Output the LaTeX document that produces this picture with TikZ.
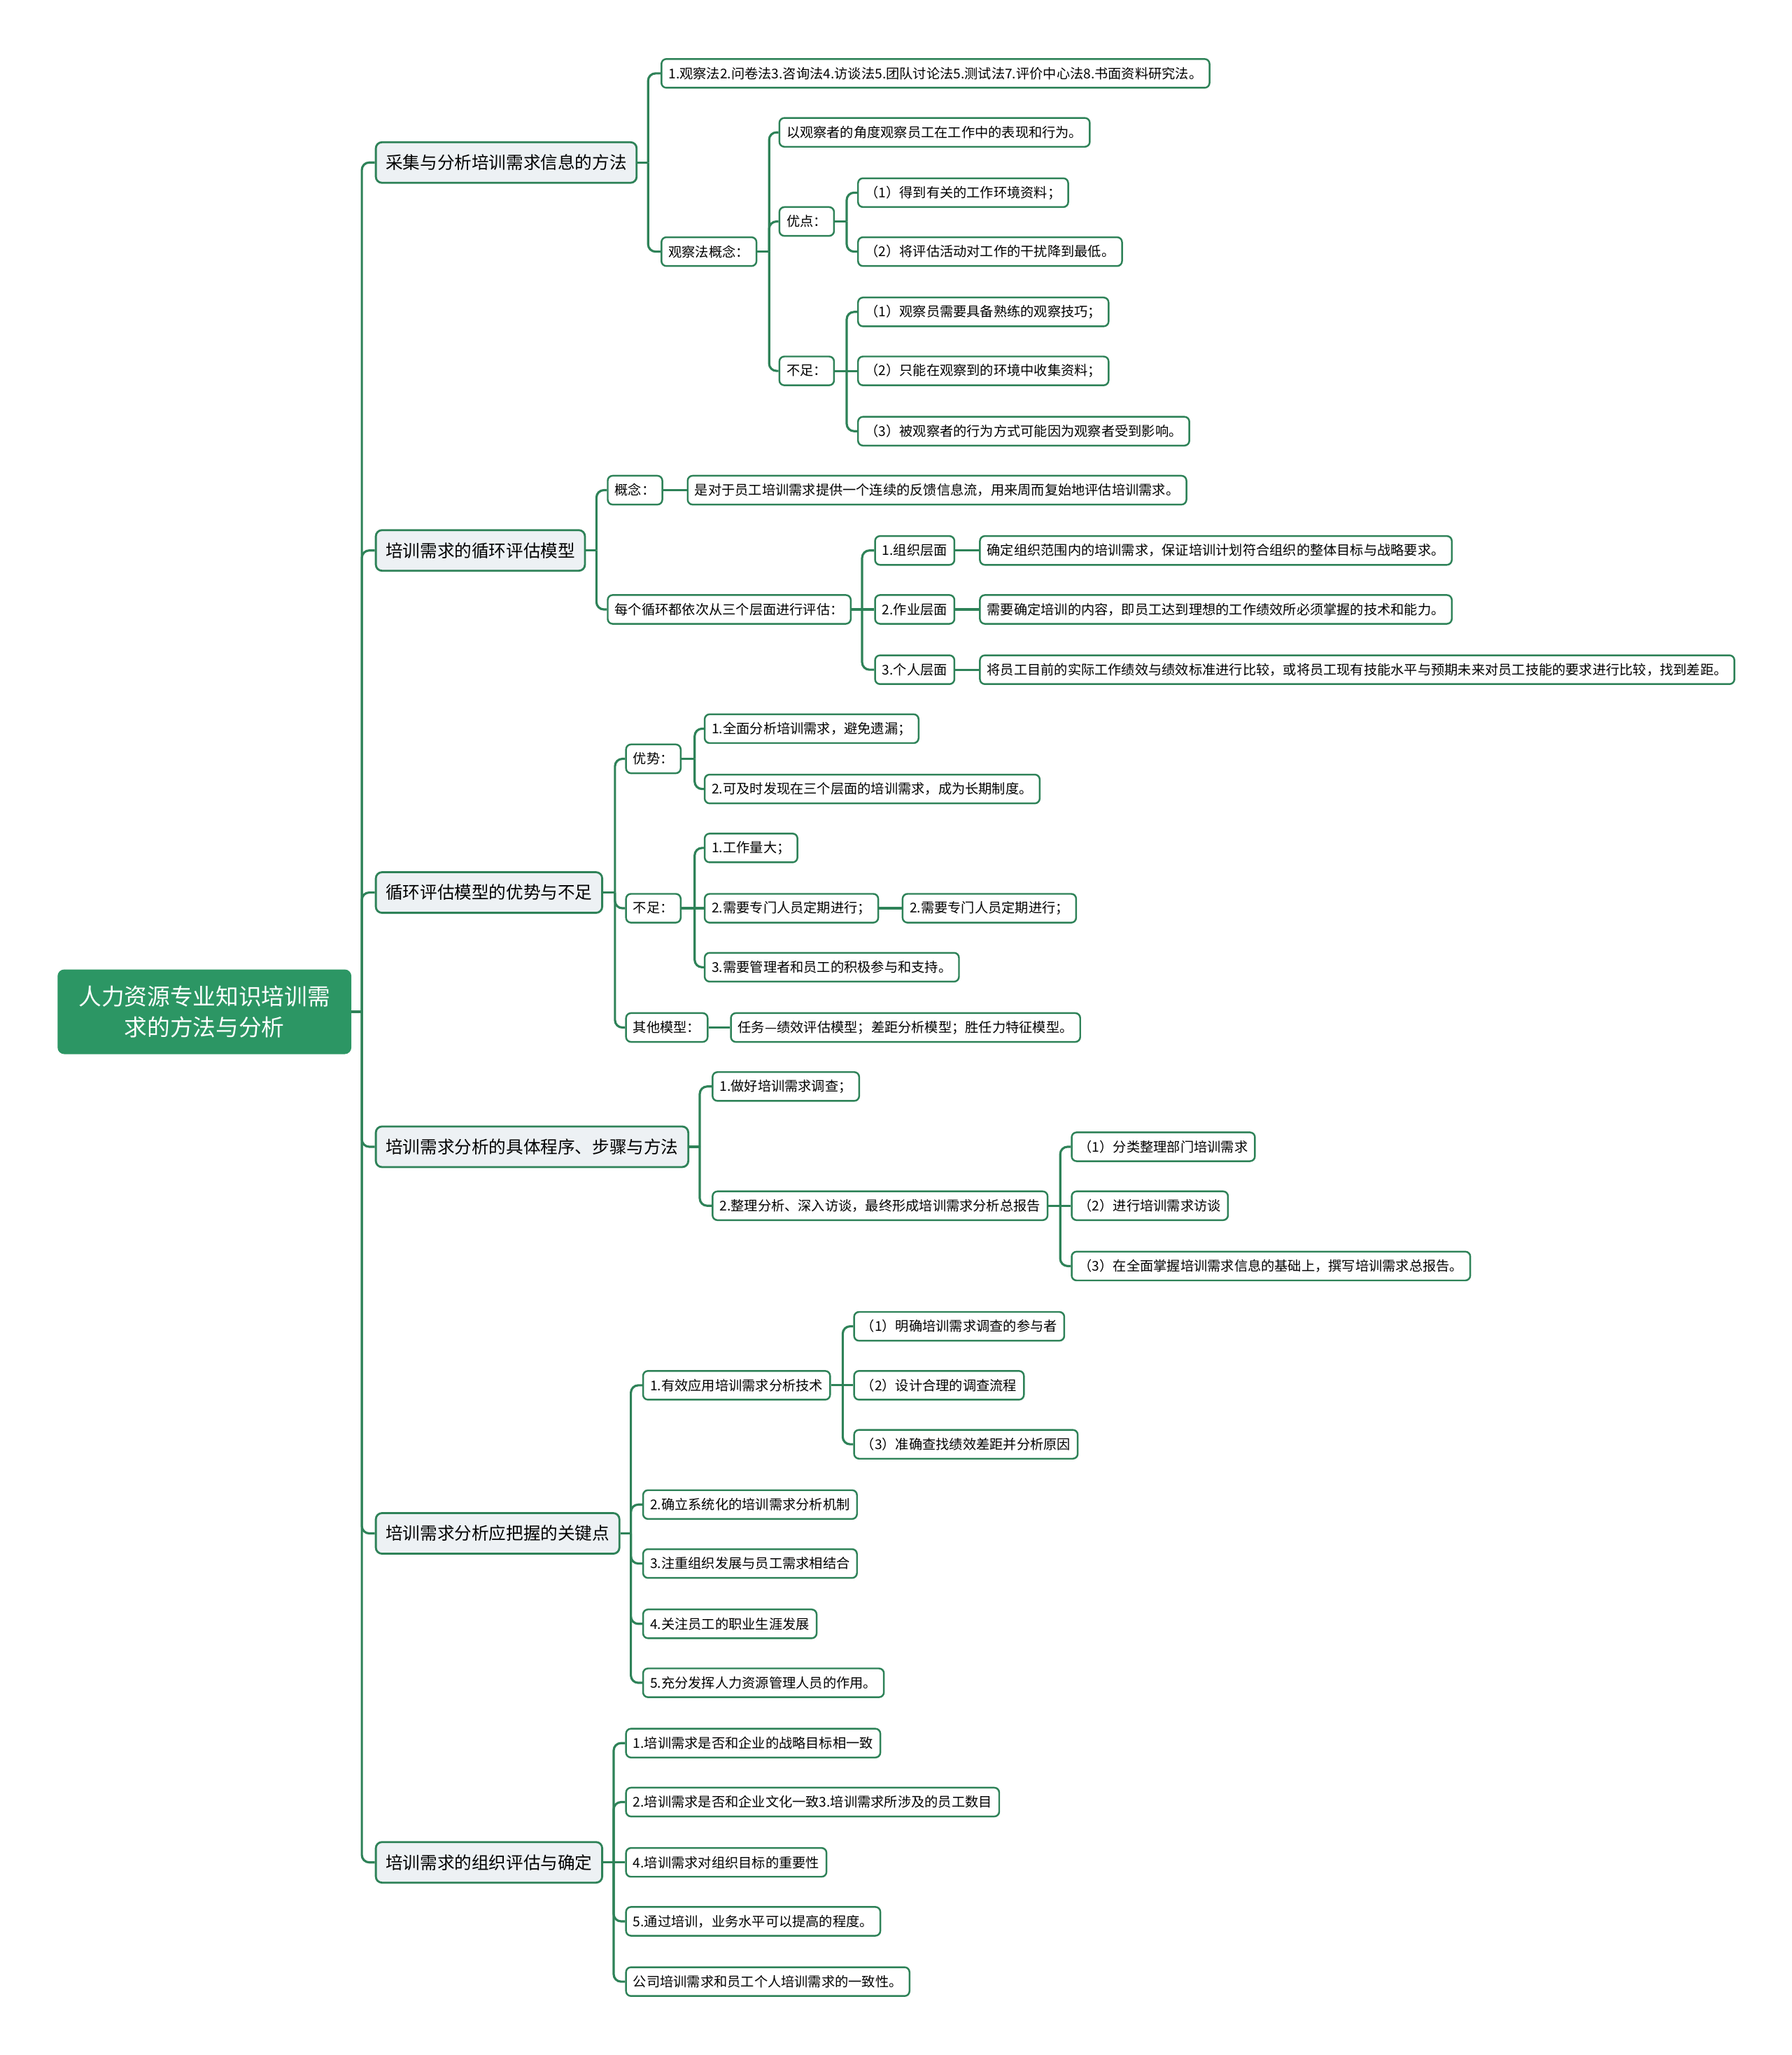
\documentclass[tikz,border=0pt]{standalone}
\usepackage{fontspec}
\setmainfont{Noto Sans CJK SC}
\usepackage{xcolor}
\definecolor{linegreen}{RGB}{46,130,88}
\definecolor{rootgreen}{RGB}{44,150,100}
\definecolor{topicfill}{RGB}{237,241,244}

\begin{document}
\begin{tikzpicture}[
  x=0.018727cm, y=-0.018727cm,
  root/.style={fill=rootgreen, draw=rootgreen, rounded corners=2.5pt, text=white,
    font=\fontsize{9.3}{12.5}\selectfont, align=center,
    minimum width=119pt, minimum height=34pt, inner sep=2pt},
  topic/.style={anchor=west, fill=topicfill, draw=linegreen, line width=0.8pt,
    rounded corners=2.5pt, font=\fontsize{7}{8}\selectfont,
    minimum height=16.5pt, inner xsep=4pt, inner ysep=0pt},
  leaf/.style={anchor=west, fill=white, draw=linegreen, line width=0.7pt,
    rounded corners=2pt, font=\fontsize{5.47}{6.5}\selectfont,
    minimum height=11.7pt, inner xsep=2.9pt, inner ysep=0pt},
  link/.style={draw=linegreen, line width=0.9pt, rounded corners=3pt}
]
\useasboundingbox (0,0) rectangle (1367,1568);

% Root
\node[root] (root) at (156,772) {人力资源专业知识培训需\\求的方法与分析};

% Main topics
\node[topic] (t1) at (286,124) {采集与分析培训需求信息的方法};
\node[topic] (t2) at (286,420) {培训需求的循环评估模型};
\node[topic] (t3) at (286,681) {循环评估模型的优势与不足};
\node[topic] (t4) at (286,875) {培训需求分析的具体程序、步骤与方法};
\node[topic] (t5) at (286,1170) {培训需求分析应把握的关键点};
\node[topic] (t6) at (286,1421) {培训需求的组织评估与确定};

\draw[link] (root.east) -- ++(8,0) coordinate (root-j);
\draw[link] (root-j) |- (t1.west);
\draw[link] (root-j) |- (t2.west);
\draw[link] (root-j) |- (t3.west);
\draw[link] (root-j) |- (t4.west);
\draw[link] (root-j) |- (t5.west);
\draw[link] (root-j) |- (t6.west);

% Branch 1
\node[leaf] (t1a) at (504,56) {1.观察法2.问卷法3.咨询法4.访谈法5.团队讨论法5.测试法7.评价中心法8.书面资料研究法。};
\node[leaf] (t1b) at (504,192) {观察法概念：};
\node[leaf] (t1b1) at (594,101) {以观察者的角度观察员工在工作中的表现和行为。};
\node[leaf] (t1b2) at (594,169) {优点：};
\node[leaf] (t1b3) at (594,283) {不足：};
\node[leaf] (t1b2a) at (654,147) {（1）得到有关的工作环境资料；};
\node[leaf] (t1b2b) at (654,192) {（2）将评估活动对工作的干扰降到最低。};
\node[leaf] (t1b3a) at (654,238) {（1）观察员需要具备熟练的观察技巧；};
\node[leaf] (t1b3b) at (654,283) {（2）只能在观察到的环境中收集资料；};
\node[leaf] (t1b3c) at (654,329) {（3）被观察者的行为方式可能因为观察者受到影响。};

\draw[link] (t1.east) -- ++(8,0) coordinate (t1-j);
\draw[link] (t1-j) |- (t1a.west);
\draw[link] (t1-j) |- (t1b.west);
\draw[link] (t1b.east) -- ++(9,0) coordinate (t1b-j);
\draw[link] (t1b-j) |- (t1b1.west);
\draw[link] (t1b-j) |- (t1b2.west);
\draw[link] (t1b-j) |- (t1b3.west);
\draw[link] (t1b2.east) -- ++(9,0) coordinate (t1b2-j);
\draw[link] (t1b2-j) |- (t1b2a.west);
\draw[link] (t1b2-j) |- (t1b2b.west);
\draw[link] (t1b3.east) -- ++(9,0) coordinate (t1b3-j);
\draw[link] (t1b3-j) |- (t1b3a.west);
\draw[link] (t1b3-j) -- (t1b3b.west);
\draw[link] (t1b3-j) |- (t1b3c.west);

% Branch 2
\node[leaf] (t2a) at (463,374) {概念：};
\node[leaf] (t2a1) at (524,374) {是对于员工培训需求提供一个连续的反馈信息流，用来周而复始地评估培训需求。};
\node[leaf] (t2b) at (463,465) {每个循环都依次从三个层面进行评估：};
\node[leaf] (t2b1) at (667,420) {1.组织层面};
\node[leaf] (t2b2) at (667,465) {2.作业层面};
\node[leaf] (t2b3) at (667,511) {3.个人层面};
\node[leaf] (t2b1a) at (747,420) {确定组织范围内的培训需求，保证培训计划符合组织的整体目标与战略要求。};
\node[leaf] (t2b2a) at (747,465) {需要确定培训的内容，即员工达到理想的工作绩效所必须掌握的技术和能力。};
\node[leaf] (t2b3a) at (747,511) {将员工目前的实际工作绩效与绩效标准进行比较，或将员工现有技能水平与预期未来对员工技能的要求进行比较，找到差距。};

\draw[link] (t2.east) -- ++(8,0) coordinate (t2-j);
\draw[link] (t2-j) |- (t2a.west);
\draw[link] (t2-j) |- (t2b.west);
\draw[link] (t2a.east) -- (t2a1.west);
\draw[link] (t2b.east) -- ++(8,0) coordinate (t2b-j);
\draw[link] (t2b-j) |- (t2b1.west);
\draw[link] (t2b-j) -- (t2b2.west);
\draw[link] (t2b-j) |- (t2b3.west);
\draw[link] (t2b1.east) -- (t2b1a.west);
\draw[link] (t2b2.east) -- (t2b2a.west);
\draw[link] (t2b3.east) -- (t2b3a.west);

% Branch 3
\node[leaf] (t3a) at (477,579) {优势：};
\node[leaf] (t3a1) at (537,556) {1.全面分析培训需求，避免遗漏；};
\node[leaf] (t3a2) at (537,602) {2.可及时发现在三个层面的培训需求，成为长期制度。};
\node[leaf] (t3b) at (477,693) {不足：};
\node[leaf] (t3b1) at (537,647) {1.工作量大；};
\node[leaf] (t3b2) at (537,693) {2.需要专门人员定期进行；};
\node[leaf] (t3b2a) at (688,693) {2.需要专门人员定期进行；};
\node[leaf] (t3b3) at (537,738) {3.需要管理者和员工的积极参与和支持。};
\node[leaf] (t3c) at (477,784) {其他模型：};
\node[leaf] (t3c1) at (557,784) {任务—绩效评估模型；差距分析模型；胜任力特征模型。};

\draw[link] (t3.east) -- ++(9,0) coordinate (t3-j);
\draw[link] (t3-j) |- (t3a.west);
\draw[link] (t3-j) |- (t3b.west);
\draw[link] (t3-j) |- (t3c.west);
\draw[link] (t3a.east) -- ++(10,0) coordinate (t3a-j);
\draw[link] (t3a-j) |- (t3a1.west);
\draw[link] (t3a-j) |- (t3a2.west);
\draw[link] (t3b.east) -- ++(10,0) coordinate (t3b-j);
\draw[link] (t3b-j) |- (t3b1.west);
\draw[link] (t3b-j) -- (t3b2.west);
\draw[link] (t3b-j) |- (t3b3.west);
\draw[link] (t3b2.east) -- (t3b2a.west);
\draw[link] (t3c.east) -- (t3c1.west);

% Branch 4
\node[leaf] (t4a) at (543,829) {1.做好培训需求调查；};
\node[leaf] (t4b) at (543,920) {2.整理分析、深入访谈，最终形成培训需求分析总报告};
\node[leaf] (t4b1) at (817,875) {（1）分类整理部门培训需求};
\node[leaf] (t4b2) at (817,920) {（2）进行培训需求访谈};
\node[leaf] (t4b3) at (817,966) {（3）在全面掌握培训需求信息的基础上，撰写培训需求总报告。};

\draw[link] (t4.east) -- ++(8,0) coordinate (t4-j);
\draw[link] (t4-j) |- (t4a.west);
\draw[link] (t4-j) |- (t4b.west);
\draw[link] (t4b.east) -- ++(9,0) coordinate (t4b-j);
\draw[link] (t4b-j) |- (t4b1.west);
\draw[link] (t4b-j) -- (t4b2.west);
\draw[link] (t4b-j) |- (t4b3.west);

% Branch 5
\node[leaf] (t5a) at (490,1057) {1.有效应用培训需求分析技术};
\node[leaf] (t5a1) at (651,1012) {（1）明确培训需求调查的参与者};
\node[leaf] (t5a2) at (651,1057) {（2）设计合理的调查流程};
\node[leaf] (t5a3) at (651,1102) {（3）准确查找绩效差距并分析原因};
\node[leaf] (t5b) at (490,1148) {2.确立系统化的培训需求分析机制};
\node[leaf] (t5c) at (490,1193) {3.注重组织发展与员工需求相结合};
\node[leaf] (t5d) at (490,1239) {4.关注员工的职业生涯发展};
\node[leaf] (t5e) at (490,1284) {5.充分发挥人力资源管理人员的作用。};

\draw[link] (t5.east) -- ++(8,0) coordinate (t5-j);
\draw[link] (t5-j) |- (t5a.west);
\draw[link] (t5-j) |- (t5b.west);
\draw[link] (t5-j) |- (t5c.west);
\draw[link] (t5-j) |- (t5d.west);
\draw[link] (t5-j) |- (t5e.west);
\draw[link] (t5a.east) -- ++(9,0) coordinate (t5a-j);
\draw[link] (t5a-j) |- (t5a1.west);
\draw[link] (t5a-j) -- (t5a2.west);
\draw[link] (t5a-j) |- (t5a3.west);

% Branch 6
\node[leaf] (t6a) at (477,1330) {1.培训需求是否和企业的战略目标相一致};
\node[leaf] (t6b) at (477,1375) {2.培训需求是否和企业文化一致3.培训需求所涉及的员工数目};
\node[leaf] (t6c) at (477,1421) {4.培训需求对组织目标的重要性};
\node[leaf] (t6d) at (477,1466) {5.通过培训，业务水平可以提高的程度。};
\node[leaf] (t6e) at (477,1512) {公司培训需求和员工个人培训需求的一致性。};

\draw[link] (t6.east) -- ++(8,0) coordinate (t6-j);
\draw[link] (t6-j) |- (t6a.west);
\draw[link] (t6-j) |- (t6b.west);
\draw[link] (t6-j) -- (t6c.west);
\draw[link] (t6-j) |- (t6d.west);
\draw[link] (t6-j) |- (t6e.west);

\end{tikzpicture}
\end{document}
